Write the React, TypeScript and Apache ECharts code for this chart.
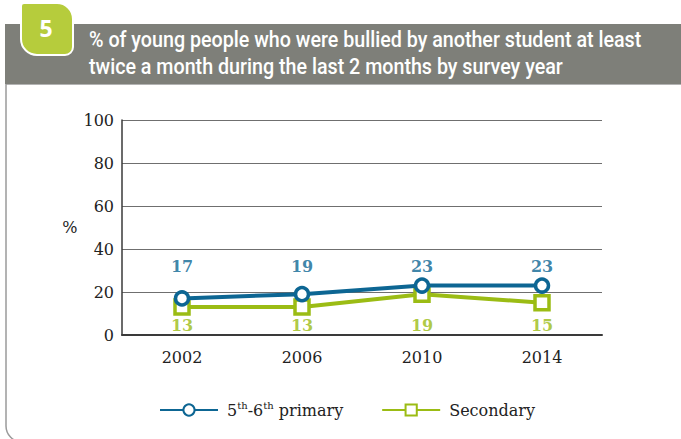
import React, { useEffect, useRef } from "react";
import * as echarts from "echarts";

const years = ["2002", "2006", "2010", "2014"];
const primary = [17, 19, 23, 23];
const secondary = [13, 13, 19, 15];
const yTicks = [0, 20, 40, 60, 80, 100];
// fixed rows (in axis units) where the value labels sit
const primaryLabelRow = [32, 32, 32, 32];
const secondaryLabelRow = [4.2, 4.2, 4.2, 4.2];

const BLUE = "#0d6693";
const GREEN = "#9bbc14";
const SERIF = "DejaVu Serif";
const RICH_SERIF = '"DejaVu Serif", serif';
const TITLE_FONT = "500 22px Roboto, sans-serif";

export default function App() {
  const ref = useRef<HTMLDivElement>(null);
  useEffect(() => {
    if (!ref.current) return;
    const chart = echarts.init(ref.current, null, { renderer: "svg" });
    chart.setOption({
      animation: false,
      backgroundColor: "#ffffff",
      textStyle: { fontFamily: SERIF },
      grid: { left: 122, right: 79, top: 120, bottom: 104 },
      xAxis: {
        type: "category",
        data: years,
        boundaryGap: true,
        axisTick: { show: false },
        axisLine: { lineStyle: { color: "#3a3a3a", width: 2 } },
        axisLabel: { color: "#222", fontFamily: SERIF, fontSize: 16, margin: 14 },
      },
      yAxis: {
        type: "value",
        min: yTicks[0],
        max: yTicks[yTicks.length - 1],
        interval: 20,
        name: "%",
        nameLocation: "middle",
        nameRotate: 0,
        nameGap: 42,
        nameTextStyle: { color: "#222", fontFamily: SERIF, fontSize: 16 },
        axisLine: { show: true, lineStyle: { color: "#3a3a3a", width: 1.5 } },
        axisTick: { show: false },
        axisLabel: { color: "#222", fontFamily: SERIF, fontSize: 16, margin: 8 },
        splitLine: { lineStyle: { color: "#6f6f6f", width: 1.2 } },
      },
      legend: {
        bottom: 21,
        left: 159,
        padding: 0,
        itemWidth: 58,
        itemHeight: 14,
        itemGap: 38,
        data: ["primary", "Secondary"],
        formatter: (n: string) =>
          n === "primary"
            ? "{n|5}{s|th}{n|-6}{s|th}{n| primary}"
            : "{n|Secondary}",
        textStyle: {
          color: "#222",
          fontFamily: RICH_SERIF,
          fontSize: 16,
          padding: [0, 0, 0, 4],
          rich: {
            n: { fontFamily: RICH_SERIF, fontSize: 16, color: "#222", lineHeight: 20 },
            s: {
              fontFamily: RICH_SERIF,
              fontSize: 10,
              color: "#222",
              lineHeight: 20,
              verticalAlign: "top",
              padding: [0, 0, 6, 0],
            },
          },
        },
      },
      series: [
        {
          name: "primary",
          type: "line",
          data: primary,
          symbol: "circle",
          symbolSize: 13,
          lineStyle: { color: BLUE, width: 4 },
          itemStyle: { color: "#fff", borderColor: BLUE, borderWidth: 3.5 },
          z: 3,
        },
        {
          name: "Secondary",
          type: "line",
          data: secondary,
          symbol: "rect",
          symbolSize: 14,
          lineStyle: { color: GREEN, width: 4 },
          itemStyle: { color: "#fff", borderColor: GREEN, borderWidth: 3.5 },
          z: 2,
        },
        {
          name: "primaryLabels",
          type: "scatter",
          symbolSize: 0,
          clip: false,
          silent: true,
          data: primaryLabelRow.map((v, i) => [i, v]),
          label: {
            show: true,
            position: "inside",
            formatter: (p: any) => String(primary[p.dataIndex]),
            color: BLUE,
            fontFamily: SERIF,
            fontWeight: "bold",
            fontSize: 16,
          },
        },
        {
          name: "secondaryLabels",
          type: "scatter",
          symbolSize: 0,
          clip: false,
          silent: true,
          data: secondaryLabelRow.map((v, i) => [i, v]),
          label: {
            show: true,
            position: "inside",
            formatter: (p: any) => String(secondary[p.dataIndex]),
            color: GREEN,
            fontFamily: SERIF,
            fontWeight: "bold",
            fontSize: 16,
          },
        },
      ],
      graphic: [
        {
          type: "rect",
          shape: { x: 6, y: 84, width: 690, height: 358, r: [0, 0, 16, 16] },
          style: { fill: "none", stroke: "#9a9a9a", lineWidth: 1.5 },
          z: -1,
        },
        {
          type: "rect",
          shape: { x: 5, y: 24, width: 676, height: 60 },
          style: { fill: "#7e7f79" },
        },
        {
          type: "rect",
          shape: { x: 21, y: 3, width: 52, height: 52, r: [3, 16, 8, 16] },
          style: { fill: "#b6cc3c", stroke: "#ffffff", lineWidth: 2 },
        },
        {
          type: "text",
          x: 46,
          y: 28,
          style: {
            text: "5",
            fill: "#ffffff",
            font: "bold 23px 'Open Sans', sans-serif",
            align: "center",
            verticalAlign: "middle",
          },
        },
        {
          type: "text",
          x: 89,
          y: 40,
          scaleX: 0.895,
          style: {
            text: "% of young people who were bullied by another student at least",
            fill: "#ffffff",
            font: TITLE_FONT,
            verticalAlign: "middle",
          },
        },
        {
          type: "text",
          x: 89,
          y: 67,
          scaleX: 0.895,
          style: {
            text: "twice a month during the last 2 months by survey year",
            fill: "#ffffff",
            font: TITLE_FONT,
            verticalAlign: "middle",
          },
        },
      ],
    });
    return () => chart.dispose();
  }, []);
  return (
    <div
      ref={ref}
      style={{ position: "fixed", left: 0, top: 0, width: 681, height: 439 }}
    />
  );
}
